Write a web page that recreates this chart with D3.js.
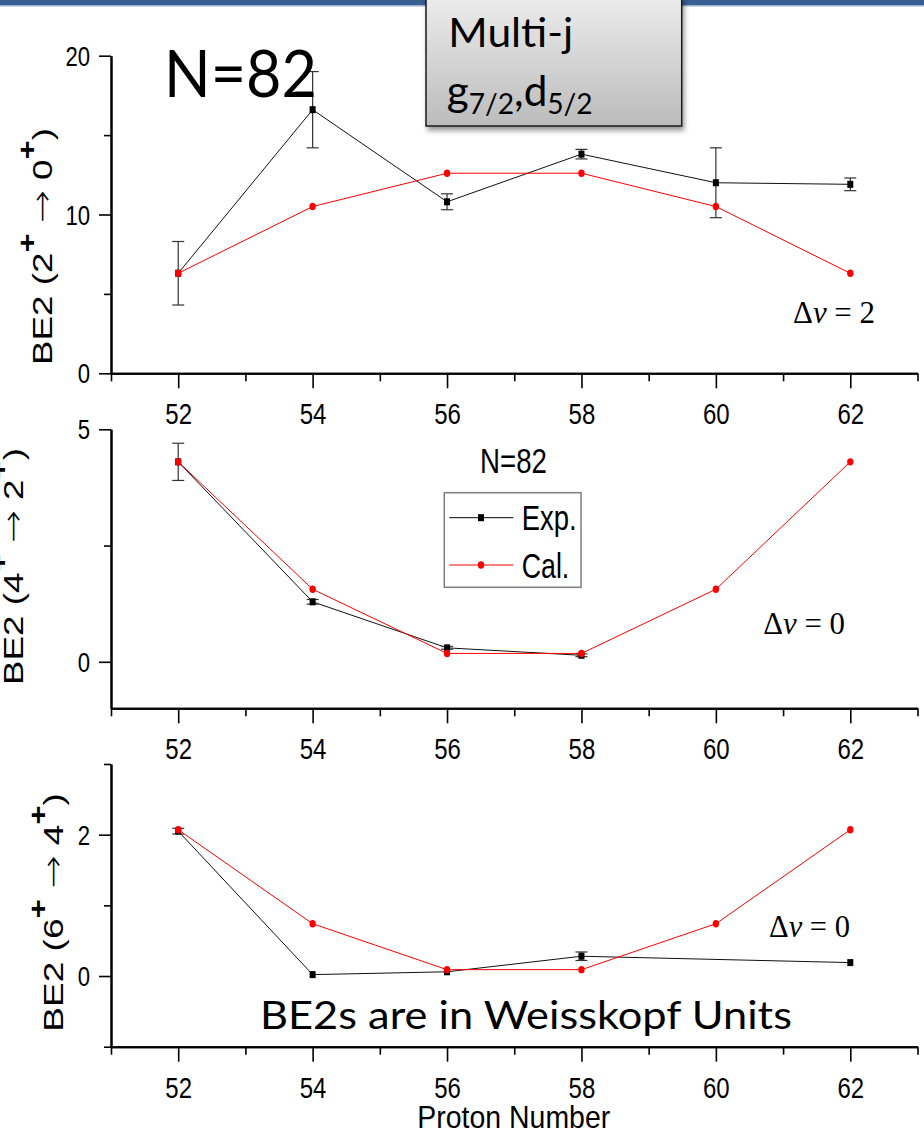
<!DOCTYPE html>
<html>
<head>
<meta charset="utf-8">
<script src="https://cdn.jsdelivr.net/npm/d3@7"></script>
<style>
  body { margin: 0; background: #fff; }
  svg { display: block; }
</style>
</head>
<body>
<svg id="chart" width="924" height="1139"></svg>
<script>
// ---- data: N = 82 isotones, B(E2) in Weisskopf units ----
const protonNumbers = [52, 54, 56, 58, 60, 62];
const minorProtonTicks = [51, 53, 55, 57, 59, 61, 63];

// B(E2; 2+ -> 0+)
const be2_20_exp    = [6.3, 16.6, 10.8, 13.8, 12.0, 11.9];
const be2_20_expErr = [2.0, 2.4, 0.5, 0.3, 2.2, 0.4];
const be2_20_cal    = [6.3, 10.5, 12.6, 12.6, 10.5, 6.3];

// B(E2; 4+ -> 2+)
const be2_42_exp    = [4.3, 1.29, 0.30, 0.14, null, null];
const be2_42_expErr = [0.4, 0.05, 0.03, 0.03, null, null];
const be2_42_cal    = [4.3, 1.56, 0.18, 0.18, 1.56, 4.3];

// B(E2; 6+ -> 4+)
const be2_64_exp    = [2.05, 0.02, 0.06, 0.28, null, 0.19];
const be2_64_expErr = [0.04, 0.01, 0.01, 0.06, null, 0.02];
const be2_64_cal    = [2.07, 0.74, 0.09, 0.09, 0.74, 2.07];

const legendLabels = ["Exp.", "Cal."];

// ---- fonts ----
const SANS = "'Liberation Sans', Arial, sans-serif";
const SERIF = "'Liberation Serif', 'Times New Roman', serif";
const HUMAN = "Lato, 'Open Sans', sans-serif";

const svg = d3.select("#chart");
const defs = svg.append("defs");

// stretch a start-anchored text horizontally to a given width
function fitText(sel, width, x, y, rotate) {
  const w = sel.node().getBBox().width;
  const k = width / w;
  sel.attr("transform", `translate(${x},${y})${rotate ? " rotate(-90)" : ""} scale(${k},1)`);
  return sel;
}

// ---- header band ----
svg.append("rect").attr("x", 0).attr("y", 0).attr("width", 924).attr("height", 5).attr("fill", "#375f92");
svg.append("rect").attr("x", 0).attr("y", 5).attr("width", 924).attr("height", 1.5).attr("fill", "#9cb3d3");

// ---- shared x scale ----
const x = d3.scaleLinear().domain([51, 63]).range([111, 917.5]);

const panels = [
  { exp: be2_20_exp, err: be2_20_expErr, cal: be2_20_cal,
    domain: [0, 20], range: [373.3, 55.7], major: [0, 10, 20], minor: [5, 15],
    title: ["2", "0"], titleX: 51.7, titleY: 365, titleLen: 237,
    dv: "2", dvX: 793, dvY: 322.7, dvW: 82 },
  { exp: be2_42_exp, err: be2_42_expErr, cal: be2_42_cal,
    domain: [-1, 5], range: [708.3, 429.3], major: [0, 5], minor: [2.5],
    title: ["4", "2"], titleX: 23.3, titleY: 685, titleLen: 237,
    dv: "0", dvX: 763.3, dvY: 634, dvW: 81.7 },
  { exp: be2_64_exp, err: be2_64_expErr, cal: be2_64_cal,
    domain: [-1, 3], range: [1046.7, 764], major: [0, 2], minor: [-1, 1, 3],
    title: ["6", "4"], titleX: 63, titleY: 1031.7, titleLen: 238.7,
    dv: "0", dvX: 769, dvY: 937.3, dvW: 81 }
];

function styleAxis(g) {
  g.attr("font-family", null).attr("font-size", null);
  g.select(".domain").attr("stroke", "#000").attr("stroke-width", 2);
  g.selectAll(".tick line").attr("stroke", "#000").attr("stroke-width", 1.6);
}

panels.forEach(p => {
  const y = d3.scaleLinear().domain(p.domain).range(p.range);
  const g = svg.append("g");
  const axisY = p.range[0];

  // x axis: minor then major ticks
  g.append("g").attr("transform", `translate(0,${axisY})`)
    .call(d3.axisBottom(x).tickValues(minorProtonTicks).tickSize(8).tickSizeOuter(0).tickFormat(""))
    .call(styleAxis);
  const xa = g.append("g").attr("transform", `translate(0,${axisY})`)
    .call(d3.axisBottom(x).tickValues(protonNumbers).tickSize(15).tickSizeOuter(0).tickFormat(d3.format("d")))
    .call(styleAxis);
  xa.selectAll(".tick text")
    .attr("y", 0).attr("dy", null)
    .attr("transform", "translate(0,51) scale(0.8,1)")
    .attr("font-family", SANS).attr("font-size", 30).attr("fill", "#000");

  // y axis: minor then major ticks
  g.append("g").attr("transform", `translate(${x(51)},0)`)
    .call(d3.axisLeft(y).tickValues(p.minor).tickSize(7).tickSizeOuter(0).tickFormat(""))
    .call(styleAxis);
  const ya = g.append("g").attr("transform", `translate(${x(51)},0)`)
    .call(d3.axisLeft(y).tickValues(p.major).tickSize(12).tickSizeOuter(0).tickFormat(d3.format("d")))
    .call(styleAxis);
  ya.selectAll(".tick text")
    .attr("x", 0).attr("dy", null)
    .attr("transform", "translate(-21,9.5) scale(0.82,1)")
    .attr("font-family", SANS).attr("font-size", 27).attr("fill", "#000");

  // y axis title: BE2 (J+ -> J-2+)
  const t = g.append("text").attr("font-family", SANS).attr("font-size", 28).attr("fill", "#000");
  t.append("tspan").text(`BE2 (${p.title[0]}`);
  t.append("tspan").attr("dy", -16).attr("font-size", 25).attr("font-weight", "bold").text("+");
  t.append("tspan").attr("dy", 16).text(" ");
  t.append("tspan").attr("font-family", "'DejaVu Sans', sans-serif").attr("font-size", 30).attr("font-weight", 300).text("\u2192");
  t.append("tspan").text(` ${p.title[1]}`);
  t.append("tspan").attr("dy", -16).attr("font-size", 25).attr("font-weight", "bold").text("+");
  t.append("tspan").attr("dy", 16).text(")");
  fitText(t, p.titleLen, p.titleX, p.titleY, true);

  // experimental points: line, error bars, squares
  const expPts = protonNumbers.map((z, i) => ({ z, v: p.exp[i], e: p.err[i] })).filter(d => d.v != null);
  const line = d3.line().x(d => x(d.z)).y(d => y(d.v));
  g.append("path").datum(expPts).attr("d", line)
    .attr("fill", "none").attr("stroke", "#111").attr("stroke-width", 1);
  const eb = g.append("g").attr("stroke", "#333").attr("stroke-width", 1.2);
  expPts.filter(d => d.e > 0.02).forEach(d => {
    eb.append("line").attr("x1", x(d.z)).attr("x2", x(d.z)).attr("y1", y(d.v - d.e)).attr("y2", y(d.v + d.e));
    [d.v - d.e, d.v + d.e].forEach(v => {
      eb.append("line").attr("x1", x(d.z) - 6).attr("x2", x(d.z) + 6).attr("y1", y(v)).attr("y2", y(v));
    });
  });
  g.append("g").selectAll("rect").data(expPts).join("rect")
    .attr("x", d => x(d.z) - 3).attr("y", d => y(d.v) - 3.5)
    .attr("width", 6).attr("height", 7).attr("fill", "#000");

  // calculated points: red line with dots
  const calPts = protonNumbers.map((z, i) => ({ z, v: p.cal[i] }));
  g.append("path").datum(calPts).attr("d", line)
    .attr("fill", "none").attr("stroke", "#ff0000").attr("stroke-width", 1);
  g.append("g").selectAll("ellipse").data(calPts).join("ellipse")
    .attr("cx", d => x(d.z)).attr("cy", d => y(d.v))
    .attr("rx", 3.2).attr("ry", 3.7).attr("fill", "#ff0000");

  // seniority change label
  const dv = g.append("text").attr("font-family", SERIF).attr("font-size", 32).attr("fill", "#000");
  dv.append("tspan").text("\u0394");
  dv.append("tspan").attr("font-style", "italic").text("v");
  dv.append("tspan").attr("dx", 8).text("=");
  dv.append("tspan").attr("dx", 8).text(p.dv);
  fitText(dv, p.dvW, p.dvX, p.dvY, false);
});

// ---- legend (middle panel) ----
const lg = svg.append("g");
lg.append("rect").attr("x", 444.3).attr("y", 492.7).attr("width", 136.7).attr("height", 94.6)
  .attr("fill", "#fff").attr("stroke", "#7f7f7f").attr("stroke-width", 1.5);
const legendRows = [
  { label: legendLabels[0], color: "#000", cy: 517.7, base: 530 , w: 55 },
  { label: legendLabels[1], color: "#ff0000", cy: 565, base: 578.3, w: 47.6 }
];
legendRows.forEach((r, i) => {
  lg.append("line").attr("x1", 449.3).attr("x2", 513.3).attr("y1", r.cy).attr("y2", r.cy)
    .attr("stroke", r.color).attr("stroke-width", 1);
  if (i === 0) {
    lg.append("rect").attr("x", 478).attr("y", r.cy - 3.5).attr("width", 6).attr("height", 7).attr("fill", "#000");
  } else {
    lg.append("ellipse").attr("cx", 481).attr("cy", r.cy).attr("rx", 3.2).attr("ry", 3.7).attr("fill", "#ff0000");
  }
  const tx = lg.append("text").attr("font-family", SANS).attr("font-size", 35).attr("fill", "#000").text(r.label);
  fitText(tx, r.w, 521.7, r.base, false);
});

// N=82 label in the middle panel
fitText(svg.append("text").attr("font-family", SANS).attr("font-size", 36).attr("fill", "#000").text("N=82"),
  67, 480, 472.7, false);

// ---- x axis title ----
fitText(svg.append("text").attr("font-family", SANS).attr("font-size", 31).attr("fill", "#000").text("Proton Number"),
  193, 417.3, 1128, false);

// ---- annotations ----
fitText(svg.append("text").attr("font-family", HUMAN).attr("font-size", 66).attr("fill", "#000").text("N=82"),
  153, 164, 96.7, false);

fitText(svg.append("text").attr("font-family", HUMAN).attr("font-size", 38).attr("fill", "#000").text("BE2s are in Weisskopf Units"),
  532, 260, 1029.3, false);

// model-space box
const grad = defs.append("linearGradient").attr("id", "boxFill").attr("x1", 0).attr("y1", 0).attr("x2", 0).attr("y2", 1);
grad.append("stop").attr("offset", "0%").attr("stop-color", "#ececec");
grad.append("stop").attr("offset", "100%").attr("stop-color", "#bcbcbc");
const shadow = defs.append("filter").attr("id", "boxShadow").attr("x", "-10%").attr("y", "-10%").attr("width", "130%").attr("height", "130%");
shadow.append("feDropShadow").attr("dx", 2).attr("dy", 4).attr("stdDeviation", 2.5)
  .attr("flood-color", "#000").attr("flood-opacity", 0.4);

svg.append("rect").attr("x", 426).attr("y", -3).attr("width", 255.7).attr("height", 129)
  .attr("fill", "url(#boxFill)").attr("stroke", "#1a1a1a").attr("stroke-width", 1.5)
  .attr("filter", "url(#boxShadow)");

fitText(svg.append("text").attr("font-family", HUMAN).attr("font-size", 41).attr("fill", "#000").text("Multi-j"),
  125, 448.3, 47, false);

const orb = svg.append("text").attr("font-family", HUMAN).attr("font-size", 42).attr("fill", "#000");
orb.append("tspan").text("g");
orb.append("tspan").attr("dy", 8).attr("font-size", 28).text("7/2");
orb.append("tspan").attr("dy", -8).text(",d");
orb.append("tspan").attr("dy", 8).attr("font-size", 28).text("5/2");
fitText(orb, 146, 446.7, 106, false);
</script>
</body>
</html>
